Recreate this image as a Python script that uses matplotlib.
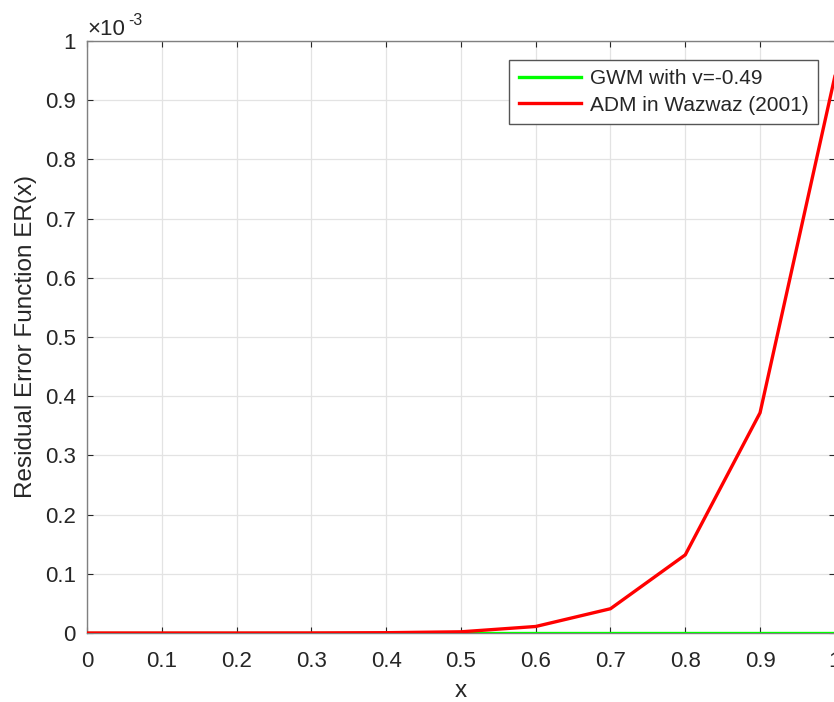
import matplotlib
matplotlib.use("Agg")
import matplotlib.pyplot as plt
from matplotlib.ticker import FuncFormatter

plt.rcParams['font.family'] = ['Liberation Sans', 'DejaVu Sans']

# Data (y values in units of 1e-3)
x = [0.0, 0.1, 0.2, 0.3, 0.4, 0.5, 0.6, 0.7, 0.8, 0.9, 1.0]
gwm_err = [0, 0, 0, 0, 0, 0, 0, 0, 0, 0, 0]
adm_err = [0.0, 0.0, 0.0, 0.0001, 0.0005, 0.002, 0.011, 0.041, 0.132, 0.372, 0.94]
xticks = [0, 0.1, 0.2, 0.3, 0.4, 0.5, 0.6, 0.7, 0.8, 0.9, 1]
yticks = [0, 0.1, 0.2, 0.3, 0.4, 0.5, 0.6, 0.7, 0.8, 0.9, 1]

tc = '#262626'
fig = plt.figure(figsize=(8.34, 7.02), dpi=100)
ax = fig.add_axes([87/834, 69/702, 1.0 - 87/834 + 0.001, (633-41)/702])

ax.plot(x, gwm_err, color='#00ff00', lw=2.4, label='GWM with v=-0.49', zorder=3)
ax.plot(x, adm_err, color='#ff0000', lw=2.4, label='ADM in Wazwaz (2001)', zorder=4)

ax.set_xlim(0, 1)
ax.set_ylim(0, 1)
ax.set_xticks(xticks)
ax.set_yticks(yticks)
fmt = FuncFormatter(lambda v, p: ('%g' % round(v, 3)))
ax.xaxis.set_major_formatter(fmt)
ax.yaxis.set_major_formatter(fmt)
ax.tick_params(direction='in', length=4, width=0.8, colors=tc, labelsize=16,
               top=True, right=True, labelcolor=tc)
ax.tick_params(axis='x', pad=13)
ax.tick_params(axis='y', pad=8)
for s in ax.spines.values():
    s.set_color('#808080')
    s.set_linewidth(1.0)
ax.grid(True, color='#e3e3e3', lw=0.9)
ax.set_axisbelow(True)

ax.set_xlabel('x', fontsize=17.5, color=tc, labelpad=6)
ax.set_ylabel('Residual Error Function ER(x)', fontsize=17.5, color=tc, labelpad=6)
ax.text(0.0, 1.010, '\u00d710', transform=ax.transAxes, fontsize=16,
        color=tc, ha='left', va='baseline')
ax.text(0.055, 1.027, '-3', transform=ax.transAxes, fontsize=11.5,
        color=tc, ha='left', va='baseline')

leg = ax.legend(loc='upper right', bbox_to_anchor=(0.977, 0.968), fontsize=15,
                frameon=True, fancybox=False, framealpha=1, edgecolor='#555555',
                handlelength=3.0, borderpad=0.45, labelspacing=0.35, handletextpad=0.4,
                borderaxespad=0)
leg.get_frame().set_linewidth(1.0)
for t in leg.get_texts():
    t.set_color(tc)

fig.savefig('out.png', dpi=100)
